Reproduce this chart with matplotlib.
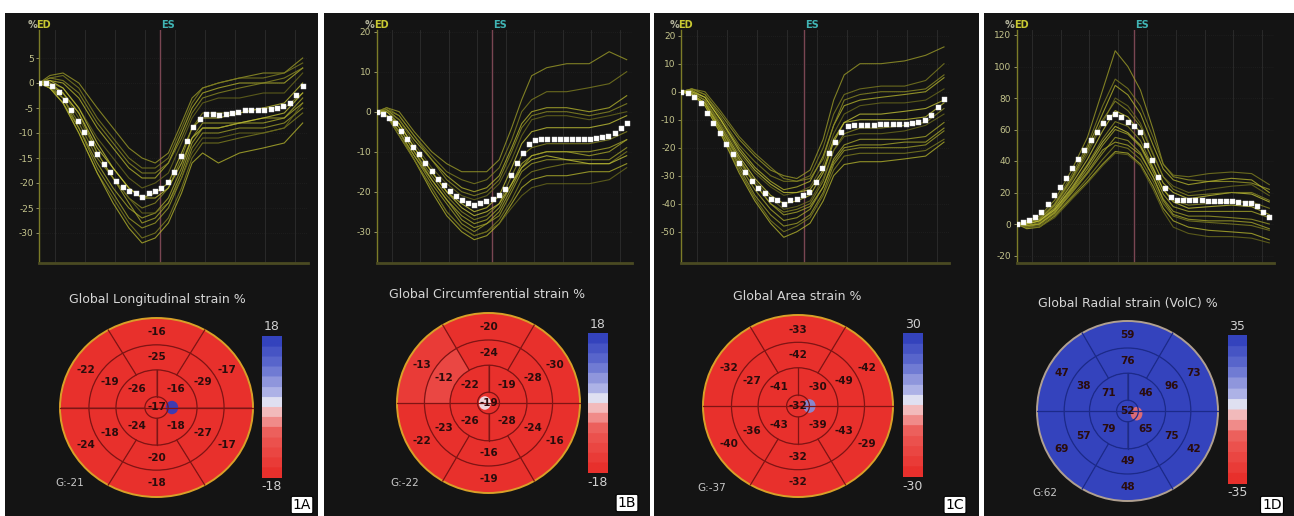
import numpy as np
import matplotlib
matplotlib.use("Agg")
import matplotlib.pyplot as plt
from matplotlib.patches import Wedge, Ellipse
from matplotlib.colors import LinearSegmentedColormap, Normalize

W, H = 1294, 516

# ---- data -------------------------------------------------------------
panel_ids = ["1A", "1B", "1C", "1D"]
titles = ["Global Longitudinal strain %", "Global Circumferential strain %",
          "Global Area strain %", "Global Radial strain (VolC) %"]
global_labels = ["G:-21", "G:-22", "G:-37", "G:62"]
cbar_limits = [18, 18, 30, 35]
yticks_a = [5, 0, -5, -10, -15, -20, -25, -30]
yticks_b = [20, 10, 0, -10, -20, -30]
yticks_c = [20, 10, 0, -10, -20, -30, -40, -50]
yticks_d = [120, 100, 80, 60, 40, 20, 0, -20]
es_pos = [0.458, 0.46, 0.466, 0.463]

# white dotted global curve, 42 frames per cycle
mean_a = [0, 0, -0.5, -1.8, -3.3, -5.3, -7.5, -9.8, -12, -14.1, -16.1, -17.8, -19.5, -20.7,
          -21.5, -22, -22.7, -22, -21.5, -20.9, -19.8, -17.8, -14.5, -11.5, -8.8, -7.1, -6.1,
          -6.1, -6.3, -6.1, -5.9, -5.7, -5.3, -5.3, -5.3, -5.3, -5.1, -4.9, -4.6, -4, -2.3, -0.5]
mean_b = [0, -0.6, -1.7, -2.9, -4.8, -6.7, -8.8, -10.6, -12.8, -14.8, -16.7, -18.3, -19.8, -21.1,
          -22.1, -22.9, -23.3, -22.9, -22.3, -21.9, -20.8, -19.2, -15.8, -12.9, -10.2, -8.1, -7.1,
          -6.7, -6.7, -6.7, -6.7, -6.9, -6.8, -6.8, -6.8, -6.7, -6.5, -6.4, -6.1, -5.3, -4, -2.9]
mean_c = [0, -0.6, -2, -4.2, -7.5, -11.3, -14.9, -18.7, -22.3, -25.6, -28.6, -31.8, -34.3, -36.1,
          -38.2, -38.8, -40, -38.8, -38.2, -37, -35.8, -32.2, -27.4, -22, -17.9, -14.3, -12.2,
          -11.9, -11.9, -11.9, -11.9, -11.7, -11.6, -11.4, -11.4, -11.4, -11.2, -10.8, -10.1,
          -8.3, -5.6, -2.6]
mean_d = [0, 1.3, 2.5, 4.7, 7.8, 12.7, 18.4, 23.7, 29, 35.4, 41.1, 47, 53.4, 58.7, 64, 67.8,
          69.9, 67.8, 65, 62.3, 58.7, 50.2, 40.7, 30.1, 22.7, 17.4, 15.3, 15.3, 15.3, 15.3, 15.3,
          14.9, 14.7, 14.7, 14.5, 14.3, 14.1, 13.6, 13.1, 11.4, 7.8, 4.7]

# segmental curves read at these fractions of the cycle
t_key = [0, 0.04, 0.09, 0.15, 0.22, 0.28, 0.34, 0.39, 0.44, 0.49, 0.54, 0.58, 0.62, 0.68,
         0.76, 0.85, 0.93, 1.0]

seg_a = [
    [0, 1.5, 2, 0, -5, -9, -13, -15, -16, -14, -8, -3, -1, 0, 1, 2, 2, 5],
    [0, 1, 1.5, -1, -7, -11, -15, -17, -17, -15, -9, -4, -1, 0, 1, 1, 2, 4],
    [0, 0.5, 0, -3, -9, -13, -17, -19, -19, -16, -10, -5, -2, -1, 0, 0, 0, 3],
    [0, 0, -1, -5, -11, -15, -19, -21, -20, -18, -12, -7, -4, -3, -3, -2, -2, 2],
    [0, -0.5, -2, -6, -13, -17, -21, -23, -22, -20, -14, -9, -7, -7, -6, -5, -4, 0],
    [0, -0.5, -3, -8, -15, -19, -23, -25, -24, -21, -15, -9, -6, -6, -6, -5, -5, -2],
    [0, -1, -4, -9, -16, -21, -25, -27, -26, -23, -17, -11, -8, -8, -8, -7, -7, -3],
    [0, -1, -3, -9, -17, -22, -27, -29, -28, -25, -19, -13, -10, -10, -9, -9, -8, -5],
    [0, -1, -4, -10, -18, -23, -28, -31, -30, -27, -21, -15, -12, -12, -11, -10, -9, -6],
    [0, -1, -4, -10, -18, -24, -29, -32, -31, -28, -22, -16, -14, -16, -14, -13, -12, -8],
    [0, 0, -2, -7, -14, -19, -23, -26, -26, -24, -19, -14, -11, -11, -10, -10, -9, -4],
    [0, 0.5, -1, -5, -12, -17, -21, -23, -23, -21, -16, -11, -9, -9, -8, -7, -6, -2],
    [0, 1, 0.5, -2, -8, -12, -16, -18, -18, -16, -11, -6, -3, -2, -1, 0, 1, 3],
    [0, 0, -2, -6, -14, -19, -24, -28, -27, -24, -18, -12, -9, -9, -8, -8, -7, -4],
]
seg_b = [
    [0, 1, 0, -5, -10, -13, -15, -15, -15, -12, -4, 3, 9, 11, 12, 12, 15, 13],
    [0, 1, -1, -6, -11, -15, -17, -18, -17, -14, -7, 0, 3, 5, 5, 6, 7, 10],
    [0, 0.5, -2, -7, -12, -16, -19, -20, -19, -16, -9, -3, 0, 1, 1, 0, 1, 4],
    [0, 0, -2, -8, -14, -18, -21, -22, -21, -18, -12, -6, -2, -1, -1, -2, -1, 0],
    [0, -1, -3, -9, -15, -20, -23, -25, -24, -21, -14, -8, -5, -4, -4, -4, -3, -1],
    [0, -1, -4, -10, -16, -21, -25, -27, -26, -23, -16, -11, -9, -8, -8, -8, -7, -5],
    [0, -1, -5, -11, -17, -22, -26, -28, -27, -24, -18, -13, -11, -10, -10, -11, -10, -7],
    [0, -1, -5, -11, -18, -23, -28, -30, -28, -26, -20, -15, -13, -12, -12, -12, -12, -9],
    [0, -1, -5, -12, -19, -25, -29, -31, -30, -27, -22, -17, -15, -14, -13, -13, -13, -10],
    [0, -1, -6, -12, -20, -26, -30, -32, -31, -28, -23, -19, -17, -16, -16, -15, -15, -13],
    [0, -1, -6, -12, -19, -25, -29, -31, -30, -28, -24, -21, -19, -18, -18, -18, -17, -14],
    [0, 0, -3, -9, -15, -20, -24, -26, -25, -23, -18, -14, -12, -11, -12, -13, -13, -11],
    [0, 0.5, -1, -6, -12, -17, -20, -21, -20, -17, -10, -4, -1, 0, 0, -1, 0, 2],
    [0, -1, -4, -10, -17, -22, -27, -29, -28, -25, -19, -14, -11, -10, -10, -10, -9, -7],
]
seg_c = [
    [0, 1, -1, -8, -17, -23, -28, -30, -31, -28, -17, -3, 6, 10, 10, 11, 13, 16],
    [0, 1, -1, -9, -19, -25, -30, -32, -32, -30, -20, -8, -1, 1, 2, 2, 4, 10],
    [0, 0.5, -2, -10, -20, -27, -32, -35, -34, -32, -23, -12, -5, -3, -2, -1, 0, 5],
    [0, 0, -3, -11, -22, -29, -34, -37, -36, -34, -26, -15, -8, -5, -4, -4, -3, 1],
    [0, -0.5, -3, -12, -23, -31, -37, -40, -39, -37, -29, -18, -11, -8, -8, -7, -6, -3],
    [0, -1, -4, -13, -25, -33, -40, -43, -42, -40, -32, -21, -15, -13, -13, -12, -11, -6],
    [0, -1, -4, -14, -26, -35, -42, -46, -45, -42, -34, -24, -19, -17, -17, -17, -16, -11],
    [0, -1, -4, -14, -27, -37, -44, -48, -47, -44, -36, -26, -21, -20, -20, -20, -19, -14],
    [0, -1, -5, -15, -28, -38, -46, -50, -48, -45, -37, -28, -23, -22, -22, -22, -21, -17],
    [0, -1, -5, -15, -29, -39, -47, -52, -50, -47, -39, -30, -26, -25, -25, -24, -23, -18],
    [0, 0, -3, -12, -24, -32, -38, -42, -41, -39, -31, -21, -16, -15, -15, -14, -12, -8],
    [0, 0, -2, -10, -21, -28, -33, -36, -36, -35, -28, -17, -11, -10, -10, -10, -9, -4],
    [0, 1, 0, -7, -16, -22, -27, -31, -32, -31, -24, -12, -3, -1, 0, 0, 1, 6],
    [0, -1, -4, -13, -24, -33, -40, -44, -43, -41, -34, -25, -20, -19, -19, -18, -18, -13],
]
seg_d = [
    [0, 2, 5, 15, 35, 55, 85, 110, 100, 85, 60, 38, 30, 28, 27, 27, 26, 22],
    [0, 1, 4, 13, 32, 50, 75, 92, 86, 75, 55, 38, 31, 30, 32, 33, 32, 25],
    [0, 1, 3, 12, 30, 48, 70, 88, 82, 70, 50, 35, 28, 25, 27, 29, 28, 20],
    [0, 0, 2, 11, 28, 44, 64, 80, 75, 64, 45, 30, 24, 20, 22, 24, 25, 18],
    [0, 0, 2, 10, 26, 41, 59, 72, 68, 58, 40, 26, 20, 16, 18, 20, 19, 14],
    [0, -1, 1, 9, 24, 38, 54, 65, 62, 53, 36, 22, 15, 12, 13, 14, 14, 10],
    [0, -1, 0, 8, 22, 35, 50, 60, 57, 49, 33, 19, 11, 8, 8, 8, 8, 4],
    [0, -2, 0, 7, 20, 32, 45, 55, 53, 45, 30, 16, 8, 5, 5, 4, 3, 0],
    [0, -2, -1, 6, 18, 29, 41, 50, 48, 41, 27, 13, 5, 2, 1, 0, -1, -4],
    [0, -3, -2, 5, 17, 27, 38, 46, 45, 38, 24, 10, 2, -2, -4, -5, -6, -10],
    [0, -2, -2, 4, 16, 26, 37, 45, 44, 37, 22, 8, -2, -6, -8, -8, -9, -12],
    [0, 0, 2, 9, 23, 37, 52, 62, 58, 50, 35, 22, 14, 10, 11, 12, 11, 6],
    [0, 1, 3, 12, 29, 46, 66, 78, 72, 62, 44, 30, 22, 18, 19, 20, 20, 15],
    [0, -1, 0, 7, 21, 33, 47, 52, 50, 44, 30, 15, 6, 3, 2, 2, 1, -3],
]

# bull's-eye values: basal / mid (top, upper-right, lower-right, bottom, lower-left, upper-left),
# apical (upper-left, upper-right, lower-right, lower-left), apex
basal = [[-16, -17, -17, -18, -24, -22], [-20, -30, -16, -19, -22, -13],
         [-33, -42, -29, -32, -40, -32], [59, 73, 42, 48, 69, 47]]
mid = [[-25, -29, -27, -20, -18, -19], [-24, -28, -24, -16, -23, -12],
       [-42, -49, -43, -32, -36, -27], [76, 96, 75, 49, 57, 38]]
apical = [[-26, -16, -18, -24], [-22, -19, -28, -26],
          [-41, -30, -39, -43], [71, 46, 65, 79]]
apex = [-17, -19, -32, 52]

# ---- layout (pixels) --------------------------------------------------
panel_px = [(5, 318), (324, 650), (654, 979), (984, 1294)]
chart_x = [(39.3, 302.7), (376.7, 626.7), (681.3, 944.0), (1016.7, 1269.3)]
chart_y0 = [(83, 5.0), (111.7, 4.0), (91.7, 2.8), (224, 1.575)]  # pixel of zero, px per unit
eye_geom = [(156.5, 407.5, 96.5, 89.5), (488.5, 403, 91.5, 90),
            (798, 406, 95, 91), (1127.5, 411, 90.5, 90)]
cbar_px = [(262, 336, 282, 478), (588, 333, 607, 473), (903, 333, 923, 477), (1228, 335, 1247, 484)]
title_px = [(157, 300), (487, 295), (797, 297), (1128, 303)]
glabel_px = [(70, 483), (405, 483), (712, 488), (1045, 493)]
plabel_px = [(302, 505), (627, 503), (955, 505), (1272, 505)]
spots = [(0.16, 0.0, '#2c3cc0'), (-0.04, 0.0, '#f0e8f0'), (0.12, 0.0, '#8090e0'), (0.1, -0.03, '#f07070')]

yticks = [yticks_a, yticks_b, yticks_c, yticks_d]
means = [mean_a, mean_b, mean_c, mean_d]
segs = [seg_a, seg_b, seg_c, seg_d]


def box(x0, y0, x1, y1):
    return [x0 / W, 1 - y1 / H, (x1 - x0) / W, (y1 - y0) / H]


cmap = LinearSegmentedColormap.from_list(
    "strain", [(0, '#e8302c'), (0.3, '#ec5c58'), (0.45, '#f4b0b0'), (0.52, '#ecedf4'),
               (0.6, '#b4b8e8'), (0.8, '#6470d0'), (1, '#3443bd')], N=14)

line_cols = ['#9a9a28', '#7e7e20', '#b0b02c', '#6a6a1c', '#c0c036', '#8a8a24', '#a4a42a']

fig = plt.figure(figsize=(W / 100, H / 100), dpi=100)
fig.patch.set_facecolor('white')

for k in range(4):
    # dark panel
    bg = fig.add_axes(box(panel_px[k][0], 13, panel_px[k][1], 516))
    bg.set_facecolor('#141414')
    bg.set_xticks([])
    bg.set_yticks([])
    for s in bg.spines.values():
        s.set_visible(False)

    # strain curves
    x0, x1 = chart_x[k]
    zero_px, ppu = chart_y0[k]
    span = x1 - x0
    ax = fig.add_axes(box(x0, 30, x0 + span * 1.02, 263))
    ax.set_facecolor('none')
    ax.set_xlim(0, 1.02)
    ax.set_ylim(-(263 - zero_px) / ppu, (zero_px - 30) / ppu)
    for gx in np.arange(0.06, 1.0, 0.114):
        ax.axvline(gx, color='#2e2e2e', lw=0.6, zorder=0)
    for gy in yticks[k]:
        ax.axhline(gy, color='#262626', lw=0.5, ls=(0, (1, 2)), zorder=0)
    ax.axvline(es_pos[k], color='#7a4652', lw=1.0, zorder=1)
    for i, c in enumerate(segs[k]):
        ax.plot(t_key, c, color=line_cols[i % len(line_cols)], lw=0.8, alpha=0.8, zorder=2,
                solid_joinstyle='round')
    tm = np.arange(len(means[k])) / (len(means[k]) - 1)
    ax.plot(tm, means[k], ls='none', marker='s', ms=3.6, mfc='white', mec='#e0e0e0',
            mew=0.3, zorder=3)
    ax.set_yticks(yticks[k])
    ax.set_yticklabels([str(v) for v in yticks[k]])
    ax.set_xticks([])
    ax.tick_params(axis='y', colors='#c4c48c', labelsize=6.5, length=2, width=0.5, pad=2)
    for s in ['top', 'right']:
        ax.spines[s].set_visible(False)
    ax.spines['left'].set_color('#7c7c28')
    ax.spines['left'].set_linewidth(1.0)
    ax.spines['bottom'].set_color('#4a4a22')
    ax.spines['bottom'].set_linewidth(2.0)
    fig.text((x0 - 12) / W, 1 - 25 / H, '%', color='#b4b49c', fontsize=7,
             fontweight='bold', ha='left', va='center')
    fig.text((x0 - 3) / W, 1 - 25 / H, 'ED', color='#c8c832', fontsize=7,
             fontweight='bold', ha='left', va='center')
    fig.text((x0 + span * es_pos[k] + 8) / W, 1 - 25 / H, 'ES', color='#40b4b4',
             fontsize=7, fontweight='bold', ha='center', va='center')

    # title
    fig.text(title_px[k][0] / W, 1 - title_px[k][1] / H, titles[k], color='#d6d6d6',
             fontsize=9, ha='center', va='center')

    # bull's-eye
    cx, cy, rx, ry = eye_geom[k]
    ex = fig.add_axes(box(cx - rx * 1.05, cy - ry * 1.05, cx + rx * 1.05, cy + ry * 1.05))
    ex.set_xlim(-1.05, 1.05)
    ex.set_ylim(-1.05, 1.05)
    ex.axis('off')
    lim = cbar_limits[k]
    norm = Normalize(-lim, lim)
    edge = '#1c2a8a' if k == 3 else '#801414'
    six_centres = [90, 30, -30, -90, -150, 150]
    for j, ang in enumerate(six_centres):
        ex.add_patch(Wedge((0, 0), 1.0, ang - 30, ang + 30, width=0.30,
                           fc=cmap(norm(basal[k][j])), ec='none'))
        ex.add_patch(Wedge((0, 0), 0.70, ang - 30, ang + 30, width=0.28,
                           fc=cmap(norm(mid[k][j])), ec='none'))
    four_centres = [135, 45, -45, -135]
    for j, ang in enumerate(four_centres):
        ex.add_patch(Wedge((0, 0), 0.42, ang - 45, ang + 45, width=0.30,
                           fc=cmap(norm(apical[k][j])), ec='none'))
    ex.add_patch(Ellipse((0, 0), 0.24, 0.24, fc=cmap(norm(apex[k])), ec='none'))
    sx, sy, sc = spots[k]
    ex.add_patch(Ellipse((sx, sy), 0.13, 0.15, fc=sc, ec='none', alpha=0.9))
    # segment borders
    for r in [0.70, 0.42, 0.12]:
        ex.add_patch(Ellipse((0, 0), 2 * r, 2 * r, fc='none', ec=edge, lw=0.9))
    for ang in [60, 120, 240, 300]:
        a = np.deg2rad(ang)
        ex.plot([0.42 * np.cos(a), np.cos(a)], [0.42 * np.sin(a), np.sin(a)], color=edge, lw=0.9)
    ex.plot([-1, 1], [0, 0], color=edge, lw=0.9)
    ex.plot([0, 0], [0.12, 0.42], color=edge, lw=0.9)
    ex.plot([0, 0], [-0.42, -0.12], color=edge, lw=0.9)
    ex.add_patch(Ellipse((0, 0), 2, 2, fc='none', ec='#b0a090' if k == 3 else '#d8a028', lw=1.4))
    txt_kw = dict(ha='center', va='center', fontsize=7.5, color='#2a0c0c', fontweight='bold')
    for j, ang in enumerate(six_centres):
        a = np.deg2rad(ang)
        ex.text(0.84 * np.cos(a), 0.84 * np.sin(a), str(basal[k][j]), **txt_kw)
        ex.text(0.56 * np.cos(a), 0.56 * np.sin(a), str(mid[k][j]), **txt_kw)
    for j, ang in enumerate(four_centres):
        a = np.deg2rad(ang)
        ex.text(0.29 * np.cos(a), 0.29 * np.sin(a), str(apical[k][j]), **txt_kw)
    ex.text(0, 0, str(apex[k]), **txt_kw)

    # colour bar
    bx0, by0, bx1, by1 = cbar_px[k]
    cb = fig.add_axes(box(bx0, by0, bx1, by1))
    cb.imshow(np.linspace(lim, -lim, 200).reshape(-1, 1), cmap=cmap, norm=norm,
              aspect='auto', extent=[0, 1, -lim, lim])
    cb.axis('off')
    fig.text((bx0 + bx1) / 2 / W, 1 - (by0 - 9) / H, str(lim), color='#d0d0d0',
             fontsize=9, ha='center', va='center')
    fig.text((bx0 + bx1) / 2 / W, 1 - (by1 + 9) / H, str(-lim), color='#d0d0d0',
             fontsize=9, ha='center', va='center')

    fig.text(glabel_px[k][0] / W, 1 - glabel_px[k][1] / H, global_labels[k], color='#c8c8c8',
             fontsize=7.5, ha='center', va='center')
    fig.text(plabel_px[k][0] / W, 1 - plabel_px[k][1] / H, panel_ids[k], color='black',
             fontsize=10, ha='center', va='center',
             bbox=dict(boxstyle='round,pad=0.12', fc='white', ec='black', lw=0.8))

fig.savefig('out.png', dpi=100, facecolor='white')
